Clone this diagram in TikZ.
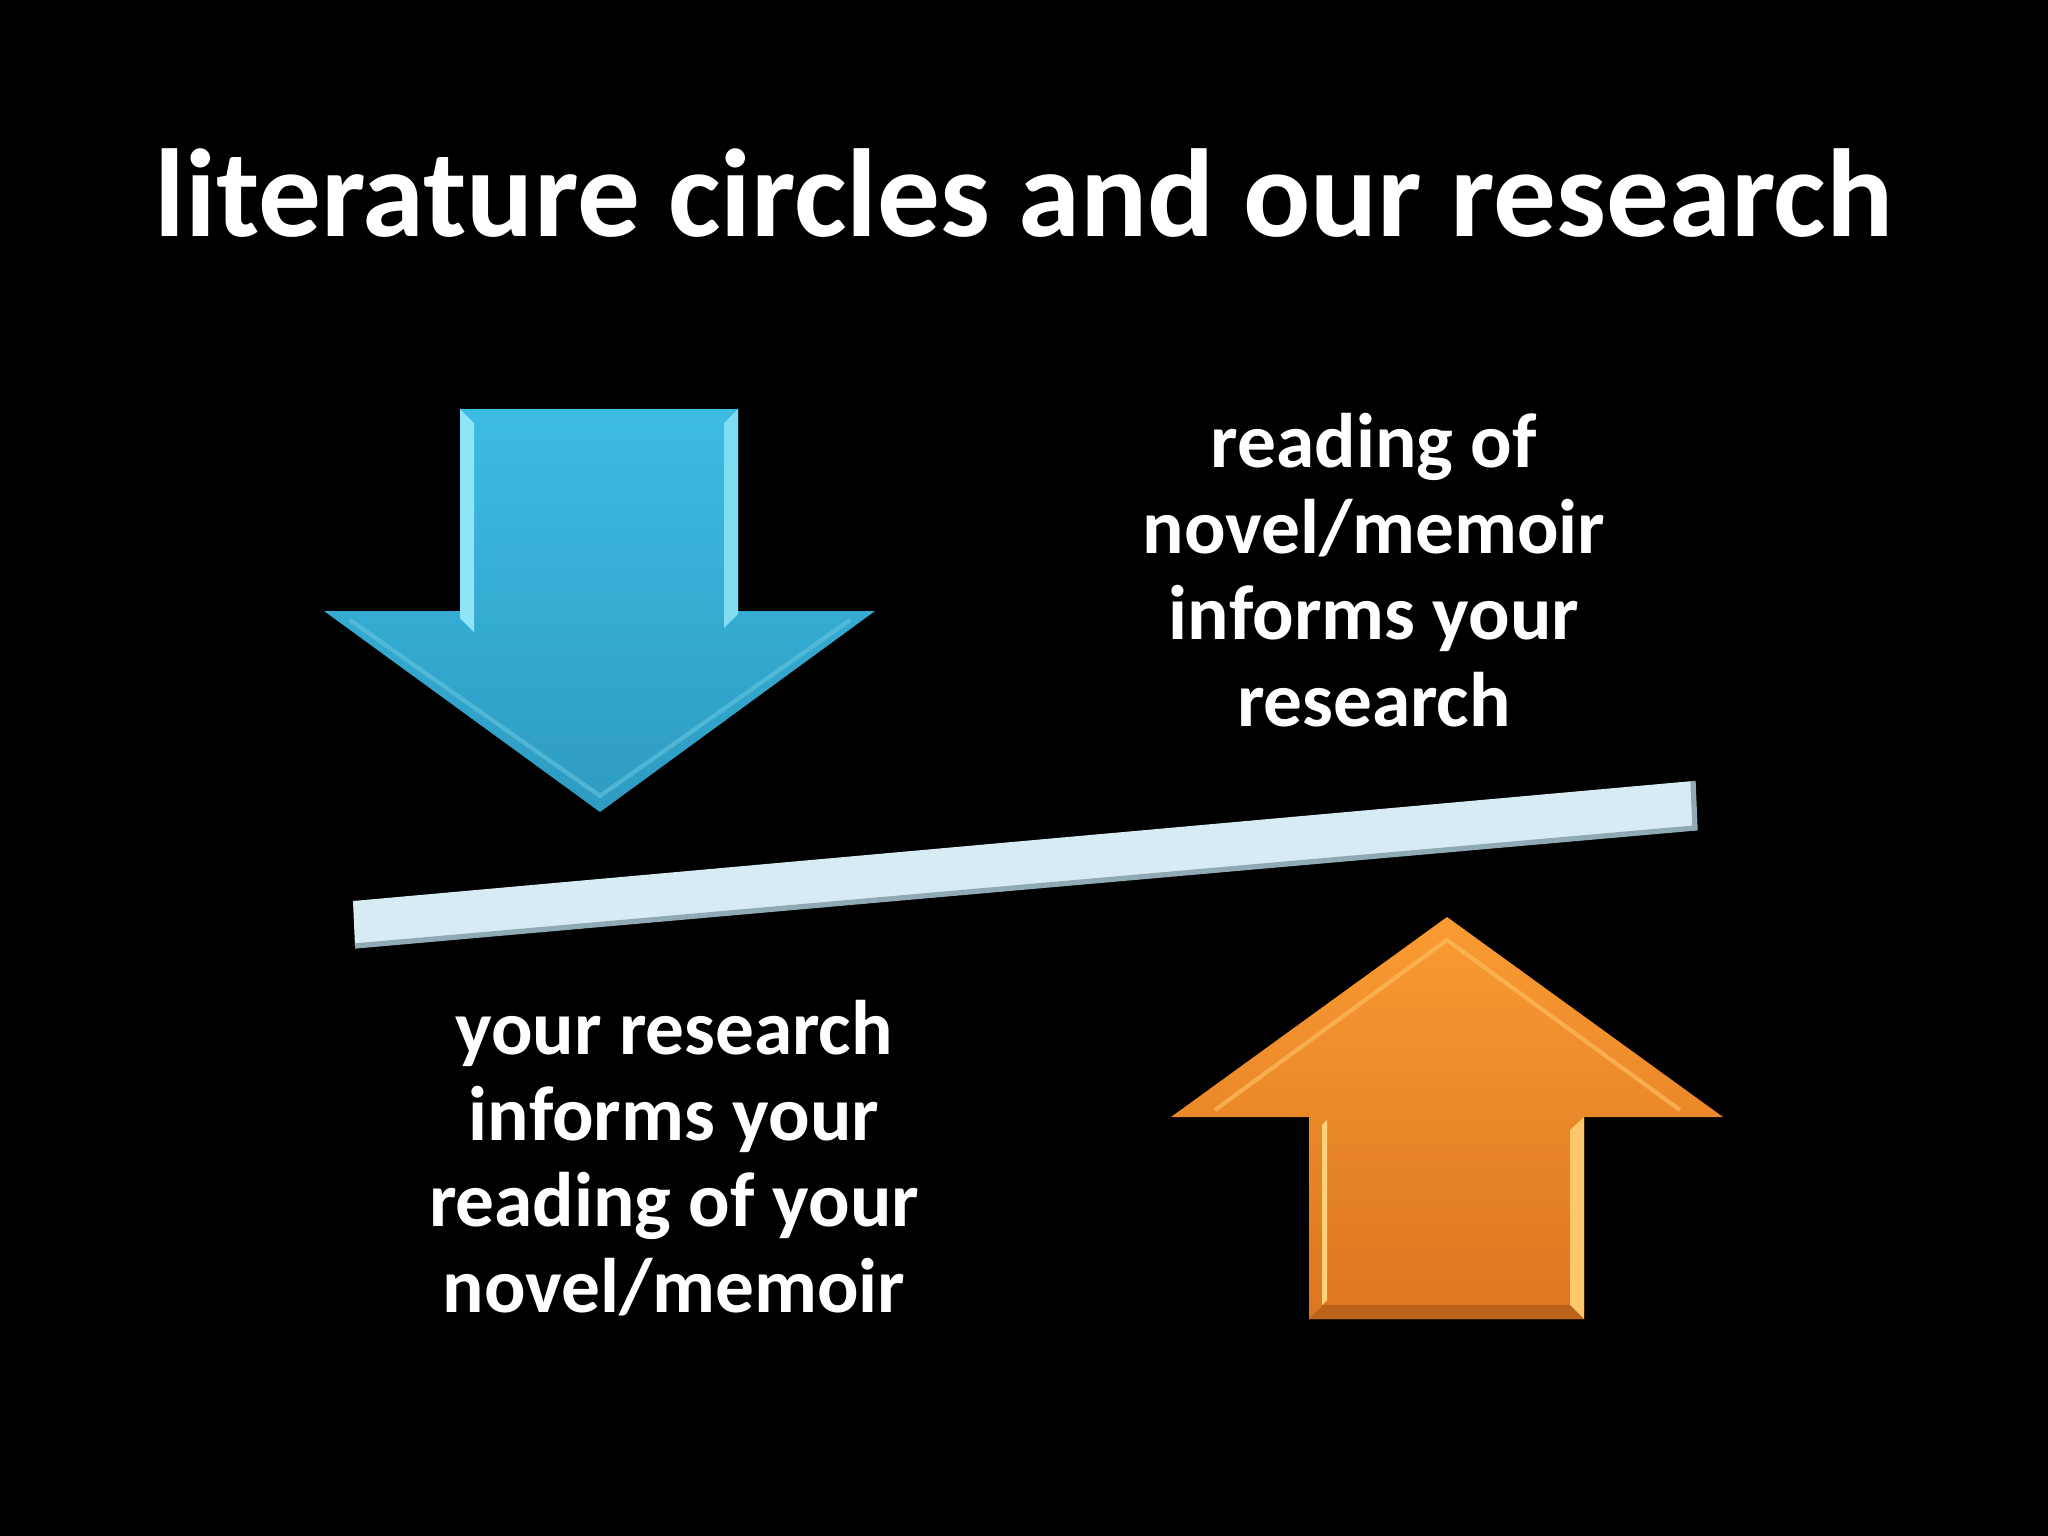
\documentclass[tikz,border=0pt]{standalone}
\usepackage{fontspec}
\setmainfont{Carlito}
\definecolor{bluetop}{HTML}{3DBCE3}
\definecolor{bluebot}{HTML}{2E9BC1}
\definecolor{bluelight}{HTML}{8FE4F7}
\definecolor{orangetop}{HTML}{F99B32}
\definecolor{orangebot}{HTML}{DC7520}
\definecolor{orangelight}{HTML}{FFD27A}
\definecolor{barfill}{HTML}{D6EBF3}
\definecolor{barshade}{HTML}{8FAAB5}
\tikzset{
  slidetext/.style={text=white, align=center, font=\bfseries\fontsize{22}{24.5}\selectfont},
  slidetitle/.style={text=white, font=\bfseries\fontsize{35.6}{40}\selectfont}
}
\begin{document}
\begin{tikzpicture}[x=0.01cm,y=-0.01cm]
    % Black slide
    \useasboundingbox[fill=black] (0,0) rectangle (2048,1536);

    % Title
    \node[slidetitle] (title) at (1024,193) {literature circles and our research};

    % Down arrow coordinates
    \coordinate (D1) at (460,409);
    \coordinate (D2) at (738,409);
    \coordinate (D3) at (738,611);
    \coordinate (D4) at (875,611);
    \coordinate (D5) at (600,812);
    \coordinate (D6) at (324,611);
    \coordinate (D7) at (460,611);

    % Down arrow body
    \shade[top color=bluetop, bottom color=bluebot] (D1) -- (D2) -- (D3) -- (D4) -- (D5) -- (D6) -- (D7) -- cycle;

    % Down arrow bevel
    \fill[bluelight] (460,409) -- (474,423) -- (474,632) -- (460,618) -- cycle;
    \fill[bluelight!80!bluetop] (738,409) -- (724,423) -- (724,628) -- (738,614) -- cycle;
    \draw[bluelight!50!bluebot, line width=1.2pt, opacity=0.7] (350,620) -- (600,796) -- (850,620);

    % Up arrow coordinates
    \coordinate (U1) at (1447,917);
    \coordinate (U2) at (1723,1117);
    \coordinate (U3) at (1584,1117);
    \coordinate (U4) at (1584,1319);
    \coordinate (U5) at (1309,1319);
    \coordinate (U6) at (1309,1117);
    \coordinate (U7) at (1171,1117);

    % Up arrow body
    \shade[top color=orangetop, bottom color=orangebot] (U1) -- (U2) -- (U3) -- (U4) -- (U5) -- (U6) -- (U7) -- cycle;

    % Up arrow bevel
    \fill[orangelight] (1322,1125) -- (1327,1120) -- (1327,1300) -- (1322,1305) -- cycle;
    \fill[orangelight!80!orangetop] (1584,1117) -- (1570,1130) -- (1570,1305) -- (1584,1319) -- cycle;
    \fill[orangebot!85!black] (1309,1319) -- (1323,1305) -- (1570,1305) -- (1584,1319) -- cycle;
    \draw[orangelight!60!orangetop, line width=1.2pt, opacity=0.7] (1215,1110) -- (1447,940) -- (1680,1110);

    % Tilted bar
    \coordinate (B1) at (353,901);
    \coordinate (B2) at (1693,781);
    \coordinate (B3) at (1695,828);
    \coordinate (B4) at (355,946);
    \fill[barfill] (B1) -- (B2) -- (B3) -- (B4) -- cycle;
    \draw[barshade, line width=1.5pt] (B4) -- (B3) -- (B2);

    % Text blocks
    \node[slidetext] (readtext) at (1374,570) {reading of\\novel/memoir\\informs your\\research};
    \node[slidetext] (researchtext) at (674,1158) {your research\\informs your\\reading of your\\novel/memoir};

\end{tikzpicture}
\end{document}
